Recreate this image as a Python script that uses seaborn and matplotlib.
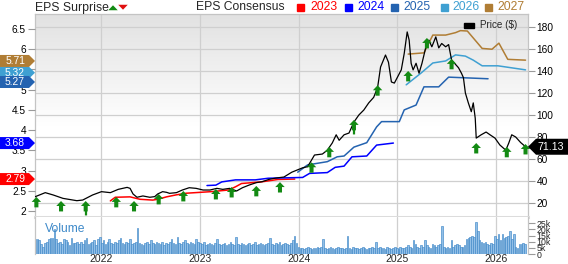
import numpy as np
import pandas as pd
import matplotlib
matplotlib.use("Agg")
import matplotlib.pyplot as plt
import seaborn as sns
from matplotlib.patches import Polygon, Rectangle, FancyArrowPatch

# ---------------- data ----------------
price_t = [2021.33, 2021.43, 2021.51, 2021.61, 2021.75, 2021.81, 2021.91, 2022.00, 2022.09, 2022.17,
           2022.26, 2022.29, 2022.32, 2022.36, 2022.42, 2022.49, 2022.54, 2022.57, 2022.62, 2022.66,
           2022.69, 2022.76, 2022.82, 2022.89, 2022.96, 2023.03, 2023.10, 2023.17, 2023.23, 2023.30,
           2023.37, 2023.43, 2023.50, 2023.57, 2023.63, 2023.70, 2023.77, 2023.85, 2023.93, 2024.04,
           2024.09, 2024.13, 2024.16, 2024.24, 2024.29, 2024.34, 2024.38, 2024.41, 2024.46, 2024.51,
           2024.56, 2024.61, 2024.66, 2024.71, 2024.76, 2024.80, 2024.83, 2024.88, 2024.91, 2024.94,
           2024.97, 2025.04, 2025.07, 2025.10, 2025.12, 2025.14, 2025.16, 2025.19, 2025.22, 2025.25,
           2025.29, 2025.32, 2025.35, 2025.39, 2025.42, 2025.45, 2025.49, 2025.52, 2025.55, 2025.62,
           2025.65, 2025.67, 2025.69, 2025.72, 2025.75, 2025.77, 2025.79, 2025.80, 2025.85, 2025.90,
           2025.94, 2025.99, 2026.04, 2026.10, 2026.13, 2026.16, 2026.20, 2026.25, 2026.30]
price_v = [25.8, 29.4, 27.3, 24.2, 22.1, 22.7, 27.3, 30.3, 29.4, 32.4,
           34.2, 33.3, 28.2, 25.2, 26.4, 25.2, 25.8, 28.2, 30.3, 29.7,
           28.8, 29.4, 31.8, 33.9, 33.3, 31.8, 31.8, 33.3, 32.4, 33.3,
           30.9, 33.9, 36.4, 38.5, 39.4, 41.5, 42.7, 43.6, 48.0, 52.0,
           53.0, 59.0, 63.6, 64.5, 68.0, 74.5, 82.0, 77.0, 82.0, 83.6,
           93.6, 100.0, 104.5, 111.0, 116.0, 125.0, 143.6, 154.5, 148.0, 130.0,
           129.0, 141.0, 156.0, 175.5, 168.0, 147.0, 141.0, 147.0, 138.0, 147.0,
           162.0, 168.0, 162.0, 171.0, 161.0, 165.0, 162.0, 164.0, 150.0, 143.0,
           138.0, 134.0, 120.0, 111.0, 103.0, 111.0, 97.0, 79.0, 82.0, 84.5,
           82.0, 79.0, 72.7, 68.0, 74.5, 82.0, 80.0, 75.0, 71.13]

eps23_t = [2022.09, 2022.14, 2022.29, 2022.34, 2022.39, 2022.52, 2022.57, 2022.66, 2022.76, 2022.86,
           2022.99, 2023.12, 2023.29, 2023.36, 2023.42, 2023.62, 2023.79, 2023.96]
eps23_v = [2.25, 2.34, 2.35, 2.32, 2.29, 2.27, 2.29, 2.35, 2.40, 2.44,
           2.46, 2.48, 2.52, 2.60, 2.68, 2.72, 2.78, 2.79]

eps24_t = [2023.07, 2023.16, 2023.22, 2023.36, 2023.56, 2023.69, 2024.04, 2024.11, 2024.29, 2024.37,
           2024.46, 2024.54, 2024.69, 2024.79, 2024.96]
eps24_v = [2.63, 2.64, 2.72, 2.77, 2.77, 2.81, 2.83, 2.93, 2.95, 3.08,
           3.11, 3.34, 3.36, 3.63, 3.68]

eps25_t = [2023.99, 2024.09, 2024.29, 2024.39, 2024.46, 2024.56, 2024.69, 2024.79, 2024.84, 2025.02,
           2025.07, 2025.19, 2025.27, 2025.42, 2025.52, 2025.92]
eps25_v = [2.96, 3.14, 3.22, 3.34, 3.36, 3.58, 3.69, 4.08, 4.21, 4.21,
           4.50, 4.62, 5.07, 5.07, 5.31, 5.27]

eps26_t = [2025.09, 2025.24, 2025.36, 2025.49, 2025.59, 2025.69, 2025.77, 2025.86, 2026.02, 2026.30]
eps26_v = [5.12, 5.41, 5.66, 5.71, 5.86, 5.83, 5.73, 5.59, 5.59, 5.49]

eps27_t = [2025.11, 2025.27, 2025.36, 2025.49, 2025.59, 2025.64, 2025.71, 2025.86, 2025.96, 2026.03,
           2026.12, 2026.30]
eps27_v = [5.88, 5.91, 6.35, 6.35, 6.41, 6.46, 6.45, 6.02, 6.00, 6.15,
           5.75, 5.73]

eps_years = ["2023", "2024", "2025", "2026", "2027"]
eps_final = [2.79, 3.68, 5.27, 5.32, 5.71]
last_price = 71.13

surprise_t = [2021.34, 2021.59, 2021.84, 2022.15, 2022.33, 2022.58, 2022.83, 2023.16, 2023.32, 2023.57,
              2023.81, 2024.13, 2024.31, 2024.56, 2024.80, 2025.11, 2025.30, 2025.55, 2025.80, 2026.11,
              2026.30]
surprise_tip = [25.5, 21.8, 21.8, 25.5, 21.8, 28.2, 30.9, 32.7, 34.5, 35.5,
                39.0, 57.0, 71.0, 95.5, 127.0, 140.0, 170.0, 151.0, 74.5, 71.0,
                73.6]
# dashed drop lines (start, end in price units) for two surprises
dash_t = [2021.84, 2024.56]
dash_from = [12.7, 86.4]
dash_to = [-3.6, 80.0]

vol_2021 = [12, 12, 11, 8, 6, 9, 10, 12, 13, 13, 20, 12, 9, 10, 8, 12, 11, 10, 7, 13, 9, 9, 10, 8, 10,
            8, 11, 13, 8, 9, 10, 11, 7, 12, 14]
vol_2022 = [9, 11, 8, 10, 12, 9, 8, 10, 9, 11, 13, 9, 8, 10, 9, 12, 8, 9, 10, 21, 9, 8, 7, 9, 10, 8,
            11, 9, 8, 10, 9, 8, 10, 7, 9, 8, 10, 12, 9, 8, 14, 9, 8, 10, 11, 9, 8, 10, 9, 8, 12, 10]
vol_2023 = [9, 8, 10, 7, 8, 9, 8, 7, 9, 12, 8, 7, 8, 9, 7, 8, 10, 8, 7, 14, 8, 7, 9, 8, 7, 8,
            9, 7, 8, 10, 7, 8, 9, 8, 7, 8, 9, 13, 8, 7, 9, 8, 10, 7, 8, 9, 8, 7, 9, 11, 15, 9]
vol_2024 = [6, 5, 5, 4, 5, 6, 5, 4, 5, 5, 6, 5, 6, 12, 5, 4, 5, 6, 5, 4, 5, 6, 5, 5, 4, 5,
            15, 5, 4, 6, 5, 5, 4, 5, 6, 5, 4, 5, 5, 6, 5, 10, 5, 6, 5, 5, 4, 6, 5, 4, 5, 6]
vol_2025 = [5, 4, 6, 5, 5, 6, 7, 6, 5, 11, 8, 6, 5, 7, 6, 11, 7, 6, 5, 8, 7, 6, 7, 8, 23, 6,
            5, 6, 5, 11, 6, 7, 8, 7, 6, 6, 7, 12, 13, 14, 15, 14, 26, 19, 11, 10, 9, 10, 8, 7, 9, 8]
vol_2026 = [15, 12, 16, 11, 16, 13, 14, 15, 19, 12, 16, 6, 5, 8, 8, 9, 8]
volume_k = vol_2021 + vol_2022 + vol_2023 + vol_2024 + vol_2025 + vol_2026

year_ticks = [2022, 2023, 2024, 2025, 2026]
eps_ticks = [2, 2.5, 3, 3.5, 4, 4.5, 5, 5.5, 6, 6.5]
price_ticks = [20, 40, 60, 80, 100, 120, 140, 160, 180]
vol_ticks = [0, 5, 10, 15, 20, 25]

# ---------------- style ----------------
sns.set_theme(style="white")
plt.rcParams["font.family"] = ["Liberation Sans", "DejaVu Sans"]

C23, C24, C25, C26, C27 = "#ff0000", "#0000ff", "#2463b0", "#3fa0d2", "#b07d34"
eps_colors = [C23, C24, C25, C26, C27]
GREEN = "#138a13"
GRID = "#cfcfcf"
TICK = "#9a9a9a"

W, H = 568, 264
fig = plt.figure(figsize=(W / 100, H / 100), dpi=100)

def fx(px):
    return px / W

def fy(py):
    return 1 - py / H

XL, XR = 35, 528
YT, YB = 14, 217
VT, VB = 217, 254
xlim = (2021.326, 2026.325)

# main price axes (background, grid, right ticks)
ax = fig.add_axes([fx(XL), fy(YB), fx(XR - XL), (YB - YT) / H])
axe = ax.twinx()   # EPS axis (left)
axp = ax.twinx()   # price line layer on top

ax.set_xlim(*xlim)
ax.set_ylim(7.27, 191.8)
grad = np.linspace(0, 1, 256)[:, None]
shade = np.clip(0.885 + 0.115 * grad / 0.55, 0, 1)
img = np.dstack([shade, shade, shade])
ax.imshow(img, extent=[xlim[0], xlim[1], 7.27, 191.8], aspect="auto", origin="upper", zorder=0)
ax.yaxis.tick_right()
ax.set_yticks(price_ticks)
ax.set_yticklabels([str(v) for v in price_ticks])
ax.set_xticks(year_ticks)
ax.set_xticklabels([])
ax.grid(True, color=GRID, lw=0.9)
ax.set_axisbelow(True)
ax.tick_params(axis="y", left=False, right=True, labelleft=False, labelright=True,
               length=5, width=0.8, color=TICK, labelsize=7.3, pad=1, labelcolor="black")
ax.tick_params(axis="x", length=0)
for s in ["left", "right", "top"]:
    ax.spines[s].set_color("#c4c4c4")
    ax.spines[s].set_linewidth(0.9)
ax.spines["bottom"].set_color("#dcdcdc")
ax.spines["bottom"].set_linewidth(2.2)

axe.set_ylim(1.852, 6.871)
axe.yaxis.tick_left()
axe.set_yticks(eps_ticks)
axe.set_yticklabels([f"{v:g}" for v in eps_ticks])
axe.tick_params(axis="y", left=True, right=False, labelleft=True, labelright=False,
                length=5, width=0.8, color=TICK, labelsize=7.3, pad=1.5, labelcolor="black")
for s in axe.spines.values():
    s.set_visible(False)

eps_sets = [(eps23_t, eps23_v), (eps24_t, eps24_v), (eps25_t, eps25_v), (eps26_t, eps26_v), (eps27_t, eps27_v)]
for (t, v), c in zip(eps_sets, eps_colors):
    sns.lineplot(x=t, y=v, ax=axe, color=c, lw=1.1, legend=False)

axp.set_ylim(7.27, 191.8)
axp.set_yticks([])
axp.tick_params(axis="y", left=False, right=False, labelleft=False, labelright=False)
for s in axp.spines.values():
    s.set_visible(False)
sns.lineplot(x=price_t, y=price_v, ax=axp, color="black", lw=0.9, legend=False)
axp.set_xlim(*xlim)
axe.set_xlim(*xlim)
axe.set_xlabel("")
axp.set_xlabel("")

for t, tip in zip(surprise_t, surprise_tip):
    axp.annotate("", xy=(t, tip), xytext=(0, -7.5), textcoords="offset points",
                 arrowprops=dict(arrowstyle="simple,head_length=0.55,head_width=1.05,tail_width=0.45",
                                 fc=GREEN, ec="none", mutation_scale=6.5, shrinkA=0, shrinkB=0),
                 annotation_clip=False)
for t, a, b in zip(dash_t, dash_from, dash_to):
    axp.plot([t, t], [a, b], color=GREEN, lw=1.6, ls=(0, (2.0, 1.2)), clip_on=False, zorder=5)

# volume panel
axv = fig.add_axes([fx(XL), fy(VB), fx(XR - XL), (VB - VT) / H])
vol_dates = pd.date_range("2021-05-02", periods=len(volume_k), freq="7D")
vol_x = vol_dates.year + (vol_dates.dayofyear - 1) / 365.25
axv.bar(vol_x, volume_k, width=0.0165, color="#92bfe7", edgecolor="#3f88c8", linewidth=0.45)
axv.set_xlim(*xlim)
axv.set_ylim(0, 30)
axv.set_xticks(year_ticks)
axv.set_xticklabels([str(y) for y in year_ticks])
axv.grid(True, axis="x", color=GRID, lw=0.9)
axv.set_axisbelow(True)
axv.yaxis.tick_right()
axv.set_yticks(vol_ticks)
axv.set_yticklabels(["0"] + [f"{v}k" for v in vol_ticks[1:]])
axv.tick_params(axis="y", right=True, length=5, width=0.8, color=TICK, labelsize=6.3, pad=1)
axv.tick_params(axis="x", length=0, labelsize=7.5, pad=0)
for s in ["left", "right"]:
    axv.spines[s].set_color("#c4c4c4")
    axv.spines[s].set_linewidth(0.9)
axv.spines["top"].set_visible(False)
axv.spines["bottom"].set_visible(False)
axv.set_facecolor("white")
axv.text((45 - XL) / (XR - XL), 0.68, "Volume", transform=axv.transAxes, color="#3d89c9",
         fontsize=8.7, va="center", ha="left")

# ---------------- top legend ----------------
fig.text(fx(35), fy(7.5), "EPS Surprise", fontsize=8.8, va="center", ha="left")
fig.add_artist(FancyArrowPatch((fx(113), fy(12)), (fx(113), fy(2.5)), transform=fig.transFigure,
                               arrowstyle="simple,head_length=0.55,head_width=1.05,tail_width=0.45",
                               mutation_scale=6.5, fc=GREEN, ec="none"))
fig.add_artist(FancyArrowPatch((fx(123), fy(3)), (fx(123), fy(12.5)), transform=fig.transFigure,
                               arrowstyle="simple,head_length=0.55,head_width=1.05,tail_width=0.45",
                               mutation_scale=6.5, fc="#e01010", ec="none"))
fig.text(fx(196), fy(7.5), "EPS Consensus", fontsize=8.7, va="center", ha="left")
sq_x = [297, 345, 391, 441, 485]
tx_x = [310, 357, 403, 452, 497]
for yr, c, sx, tx in zip(eps_years, eps_colors, sq_x, tx_x):
    fig.add_artist(Rectangle((fx(sx), fy(11)), fx(7), 7 / H, transform=fig.transFigure, color=c))
    fig.text(fx(tx), fy(7.5), yr, fontsize=8.7, va="center", ha="left", color=c)

# price legend inside plot
fig.add_artist(Rectangle((fx(464), fy(28)), fx(10), 5 / H, transform=fig.transFigure, color="black"))
fig.text(fx(480), fy(25.5), "Price ($)", fontsize=7.1, va="center", ha="left")

# ---------------- value badges ----------------
def disp_y(axis, val):
    return H - axis.transData.transform((xlim[0], val))[1]

def badge_left(ypx, text, color, h=12):
    pts = [(0, ypx - h / 2), (29, ypx - h / 2), (35, ypx), (29, ypx + h / 2), (0, ypx + h / 2)]
    fig.add_artist(Polygon([(fx(a), fy(b)) for a, b in pts], closed=True, transform=fig.transFigure,
                           fc=color, ec="none"))
    fig.text(fx(15), fy(ypx), text, color="white", fontsize=7.4, ha="center", va="center")

fig.canvas.draw()
badge_nudge = [0.0, 0.0, -0.08, 0.10, 0.0]
order = [0, 1, 3, 4, 2]
for i in order:
    ypx = disp_y(axe, eps_final[i] + badge_nudge[i])
    badge_left(ypx, f"{eps_final[i]:.2f}", eps_colors[i])

yp = disp_y(axp, last_price)
pts = [(528, yp), (536, yp - 8), (568, yp - 8), (568, yp + 8), (536, yp + 8)]
fig.add_artist(Polygon([(fx(a), fy(b)) for a, b in pts], closed=True, transform=fig.transFigure,
                       fc="black", ec="none"))
fig.text(fx(551), fy(yp), f"{last_price:.2f}", color="white", fontsize=7.7, ha="center", va="center")

fig.savefig("out.png", dpi=100)
